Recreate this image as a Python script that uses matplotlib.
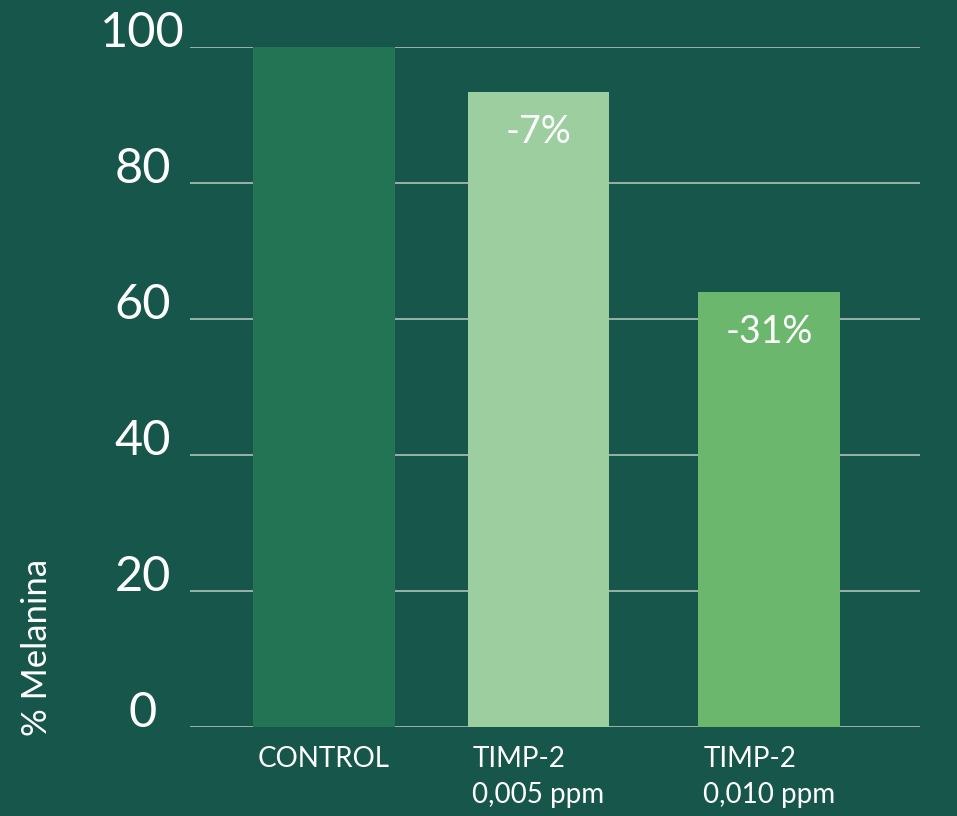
import matplotlib
matplotlib.use("Agg")
import matplotlib.pyplot as plt

categories = ["CONTROL", "TIMP-2\n0,005 ppm", "TIMP-2\n0,010 ppm"]
values = [100, 93.4, 64]
labels = ["", "-7%", "-31%"]
y_ticks = [0, 20, 40, 60, 80, 100]

BG = "#17564A"
BAR_COLORS = ["#237355", "#9DCEA0", "#6BB76E"]
GRID = "#A3B8B1"

plt.rcParams["font.family"] = ["Lato", "DejaVu Sans"]

fig = plt.figure(figsize=(9.57, 8.16), dpi=100, facecolor=BG)
ax = fig.add_axes([190 / 957, 1 - 727 / 816, 730 / 957, 680 / 816])
ax.set_facecolor(BG)

# bar centres are not evenly spaced in the original
x_pos = [0, 1, 2.077]
bars = ax.bar(x_pos, values, width=0.662, color=BAR_COLORS, zorder=3)

for b, lab in zip(bars, labels):
    if lab:
        ax.annotate(lab, (b.get_x() + b.get_width() / 2, b.get_height()),
                    xytext=(0, -29), textcoords="offset points",
                    ha="center", va="center", color="white", fontsize=27)

ax.set_xlim(-0.625, 2.779)
ax.set_ylim(0, 100)
ax.set_yticks(y_ticks)
ax.set_yticklabels([str(t) for t in y_ticks])
ax.grid(axis="y", color=GRID, linewidth=1.3, zorder=0)
ax.set_axisbelow(True)

for s in ax.spines.values():
    s.set_visible(False)

ax.tick_params(axis="y", length=0, pad=34, labelsize=35, labelcolor="white")
for t in ax.get_yticklabels():
    t.set_horizontalalignment("center")
    t.set_verticalalignment("baseline")

ax.set_xticks(x_pos)
ax.set_xticklabels(categories, fontsize=20, color="white",
                   multialignment="left", linespacing=1.45)
ax.tick_params(axis="x", length=0, pad=14)

fig.text(37 / 957, 1 - 647 / 816, "% Melanina", rotation=90, color="white",
         fontsize=25, ha="center", va="center")

fig.savefig("out.png", dpi=100, facecolor=BG)
